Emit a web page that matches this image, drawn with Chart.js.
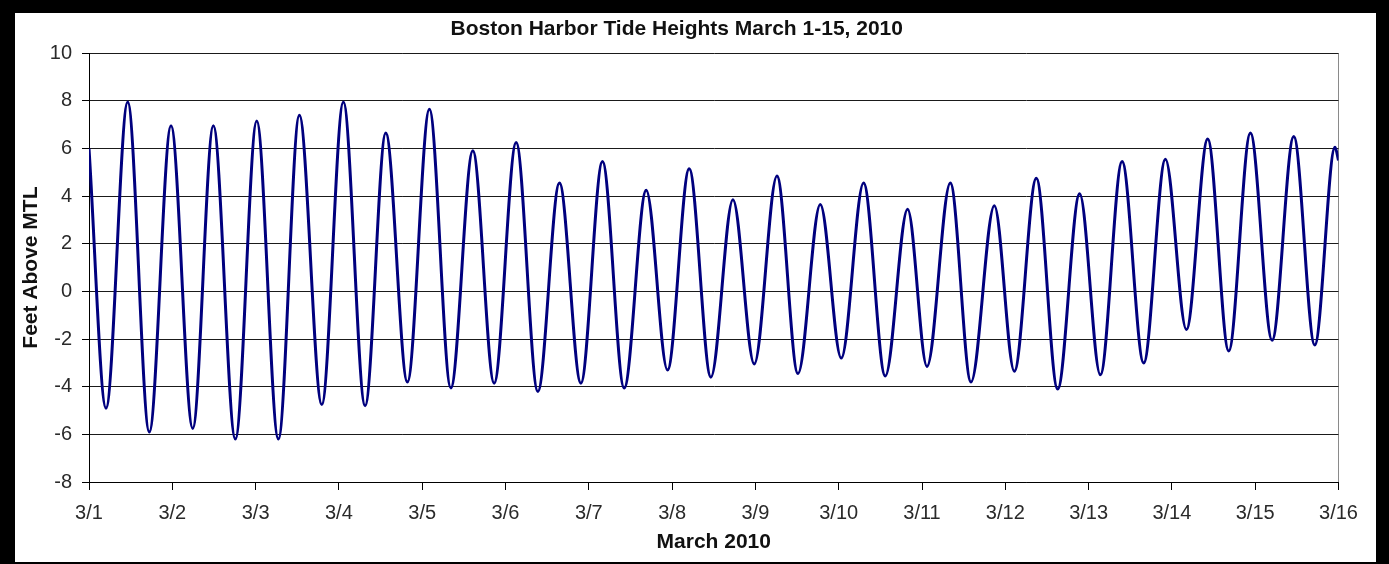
<!DOCTYPE html>
<html>
<head>
<meta charset="utf-8">
<script src="https://cdn.jsdelivr.net/npm/chart.js@4.4.1/dist/chart.umd.min.js"></script>
<style>
  html, body { margin: 0; padding: 0; background: #000; width: 1389px; height: 564px; overflow: hidden; }
  #frame { position: absolute; left: 15px; top: 13px; width: 1361px; height: 549px; background: #fff; }
  canvas { display: block; }
</style>
</head>
<body>
<div id="frame"><canvas id="c" width="1361" height="549"></canvas></div>
<script>
// Hours after 3/1 00:00 for the start, each high/low turning point, and the end
const tideHours = [0, 4.90, 11.15, 17.38, 23.63, 29.89, 35.83, 42.17, 48.33, 54.56, 60.61,
  67.07, 73.29, 79.55, 85.51, 91.74, 98.08, 104.25, 110.59, 116.73, 123.07,
  129.32, 135.55, 141.72, 147.94, 154.20, 160.54, 166.68, 172.93, 179.18, 185.53,
  191.67, 198.21, 204.26, 210.69, 216.74, 223.17, 229.42, 235.85, 241.44, 248.16,
  254.12, 260.84, 266.60, 272.94, 279.09, 285.42, 291.39, 297.65, 303.87, 310.13,
  316.18, 322.32, 328.37, 334.62, 340.87, 347.11, 353.16, 359.0, 360];
// Tide height (feet above MTL) at those times
const tideFeet = [6.0, -4.9, 7.95, -5.9, 6.95, -5.75, 6.95, -6.2, 7.15, -6.2, 7.4,
  -4.75, 7.95, -4.8, 6.65, -3.8, 7.65, -4.05, 5.9, -3.85, 6.25,
  -4.2, 4.55, -3.85, 5.45, -4.05, 4.25, -3.3, 5.15, -3.6, 3.85,
  -3.05, 4.85, -3.45, 3.65, -2.8, 4.55, -3.55, 3.45, -3.15, 4.55,
  -3.8, 3.6, -3.35, 4.75, -4.1, 4.1, -3.5, 5.45, -3.0, 5.55,
  -1.6, 6.4, -2.5, 6.65, -2.05, 6.5, -2.25, 6.05, 5.5];
const tickLabels = ['3/1','3/2','3/3','3/4','3/5','3/6','3/7','3/8','3/9','3/10','3/11','3/12','3/13','3/14','3/15','3/16'];
const yTicks = [-8, -6, -4, -2, 0, 2, 4, 6, 8, 10];

const FONT = "'Liberation Sans', Arial, sans-serif";

new Chart(document.getElementById('c'), {
  type: 'line',
  data: {
    datasets: [{
      label: 'Tide Height',
      data: tideHours.map((h, i) => ({ x: h, y: tideFeet[i] })),
      borderColor: '#00007e',
      borderWidth: 3,
      pointRadius: 0,
      fill: false,
      cubicInterpolationMode: 'monotone'
    }]
  },
  options: {
    responsive: false,
    devicePixelRatio: 1,
    animation: false,
    layout: { padding: { left: 0, right: 37.5, top: 0, bottom: 0 } },
    plugins: {
      legend: { display: false },
      tooltip: { enabled: false },
      title: {
        display: true,
        text: 'Boston Harbor Tide Heights March 1-15, 2010',
        color: '#111',
        font: { family: FONT, size: 21, weight: 'bold' },
        padding: { top: 4, bottom: 11 }
      }
    },
    scales: {
      x: {
        type: 'linear',
        min: 0,
        max: 360,
        afterBuildTicks: s => { s.ticks = tickLabels.map((_, i) => ({ value: i * 24 })); },
        afterFit: s => { s.height = 80; },
        ticks: {
          autoSkip: false,
          maxRotation: 0,
          padding: 11,
          color: '#2a2a2a',
          font: { family: FONT, size: 20 },
          callback: (v, i) => tickLabels[i]
        },
        grid: {
          drawOnChartArea: true,
          color: ctx => (ctx.index === tickLabels.length - 1 ? '#8a8a8a' : 'rgba(0,0,0,0)'),
          tickColor: '#000',
          tickLength: 8,
          lineWidth: 1
        },
        border: { display: true, color: '#000', width: 1 },
        title: {
          display: true,
          text: 'March 2010',
          color: '#111',
          font: { family: FONT, size: 21, weight: 'bold' },
          padding: { top: 0, bottom: 7 }
        }
      },
      y: {
        min: -8,
        max: 10,
        afterBuildTicks: s => { s.ticks = yTicks.map(v => ({ value: v })); },
        afterFit: s => { s.width = 74; },
        ticks: {
          padding: 10,
          color: '#2a2a2a',
          font: { family: FONT, size: 20 }
        },
        grid: {
          color: '#1a1a1a',
          tickColor: '#000',
          tickLength: 7,
          lineWidth: 1
        },
        border: { display: true, color: '#000', width: 1 },
        title: {
          display: true,
          text: 'Feet Above MTL',
          color: '#111',
          font: { family: FONT, size: 21, weight: 'bold' },
          padding: { top: 4, bottom: 0 }
        }
      }
    }
  }
});
</script>
</body>
</html>
